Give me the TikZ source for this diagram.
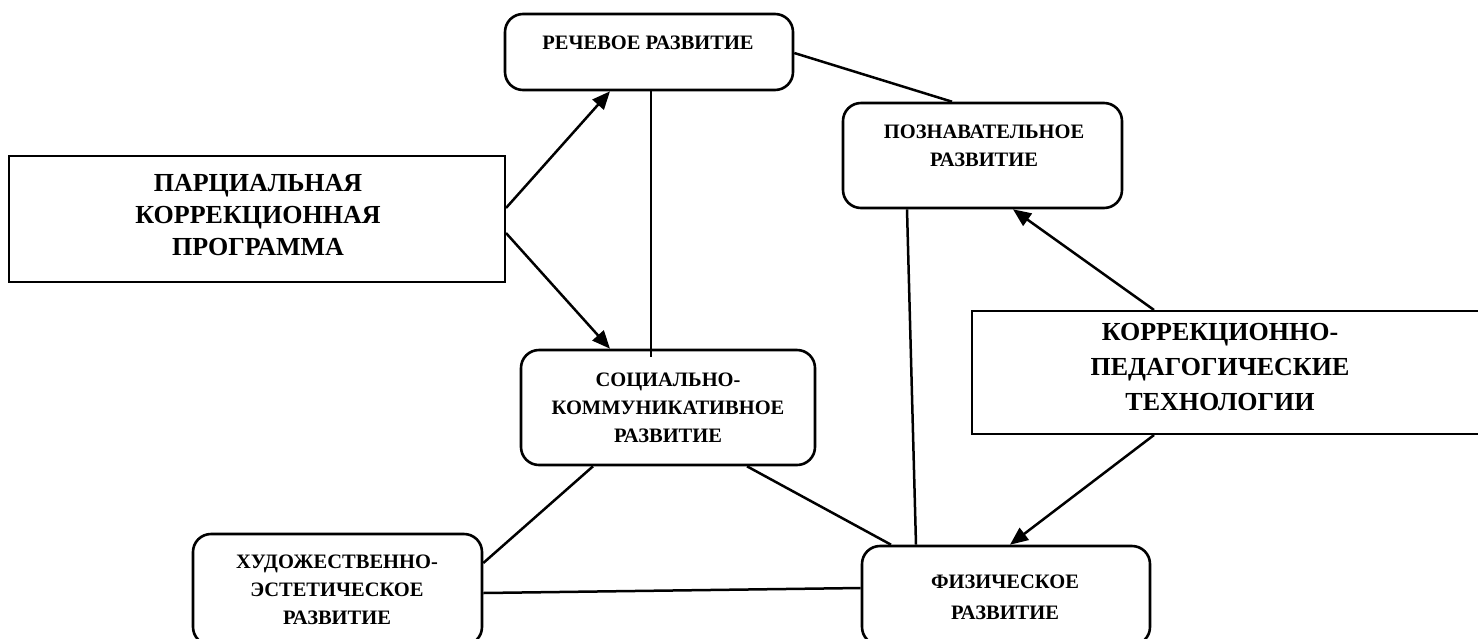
\documentclass[tikz,border=0pt]{standalone}
\usepackage{fontspec}
\setmainfont{Liberation Serif}
\usetikzlibrary{arrows.meta}
\begin{document}
\begin{tikzpicture}[x=1pt,y=-1pt,
  rbox/.style={draw, line width=2.6pt, rounded corners=18pt, inner sep=0pt},
  sbox/.style={draw, line width=2pt, inner sep=0pt},
  stxt/.style={font=\fontsize{20.5}{28}\selectfont\bfseries, align=center, inner sep=0pt},
  btxt/.style={font=\fontsize{26}{32}\selectfont\bfseries, align=center, inner sep=0pt},
  conn/.style={line width=2.5pt},
  arr/.style={conn, -{Triangle[length=18pt,width=15pt]}}]
\useasboundingbox (0,0) rectangle (1478,638);
\clip (0,0) rectangle (1478,638);
\fill[white] (0,0) rectangle (1478,638);

% boxes
\node[sbox, minimum width=496, minimum height=126] (parc) at (257,219) {};
\node[btxt] (parcT) at (258,215) {ПАРЦИАЛЬНАЯ\\КОРРЕКЦИОННАЯ\\ПРОГРАММА};

\node[sbox, minimum width=520, minimum height=123] (korr) at (1232,372.5) {};
\node[btxt, font=\fontsize{26}{35}\selectfont\bfseries] (korrT) at (1220,367) {КОРРЕКЦИОННО-\\ПЕДАГОГИЧЕСКИЕ\\ТЕХНОЛОГИИ};

\node[rbox, minimum width=288, minimum height=76] (rech) at (649,52) {};
\node[stxt] (rechT) at (648,43) {РЕЧЕВОЕ РАЗВИТИЕ};

\node[rbox, minimum width=279, minimum height=105] (pozn) at (982.5,155.5) {};
\node[stxt] (poznT) at (984,146) {ПОЗНАВАТЕЛЬНОЕ\\РАЗВИТИЕ};

\node[rbox, minimum width=294, minimum height=115] (soc) at (668,407.5) {};
\node[stxt] (socT) at (668,408) {СОЦИАЛЬНО-\\КОММУНИКАТИВНОЕ\\РАЗВИТИЕ};

\node[rbox, minimum width=289, minimum height=111] (hud) at (337.5,589.5) {};
\node[stxt] (hudT) at (337,590) {ХУДОЖЕСТВЕННО-\\ЭСТЕТИЧЕСКОЕ\\РАЗВИТИЕ};

\node[rbox, minimum width=288, minimum height=99] (fiz) at (1006,595.5) {};
\node[stxt, font=\fontsize{20.5}{31}\selectfont\bfseries] (fizT) at (1005,597) {ФИЗИЧЕСКОЕ\\РАЗВИТИЕ};

% connectors
\draw[arr] (parc.east |- 0,208) -- (rech.south -| 610,0);
\draw[arr] (parc.east |- 0,233) -- (soc.north -| 610,0);
\draw[conn] (rech.south -| 651,0) -- (soc.north -| 651,0) -- ++(0,8);
\draw[conn] (rech.east |- 0,53) -- (pozn.north -| 952,0);
\draw[conn] (pozn.south -| 907,0) -- (fiz.north -| 916,0);
\draw[arr] (korr.north -| 1154,0) -- (pozn.south -| 1013,0);
\draw[arr] (korr.south -| 1154,0) -- (fiz.north -| 1010,0);
\draw[conn] (soc.south -| 593,0) -- (hud.east |- 0,563);
\draw[conn] (soc.south -| 747,0) -- (fiz.north -| 891,0);
\draw[conn] (hud.east |- 0,593) -- (fiz.west |- 0,588);
\end{tikzpicture}
\end{document}
